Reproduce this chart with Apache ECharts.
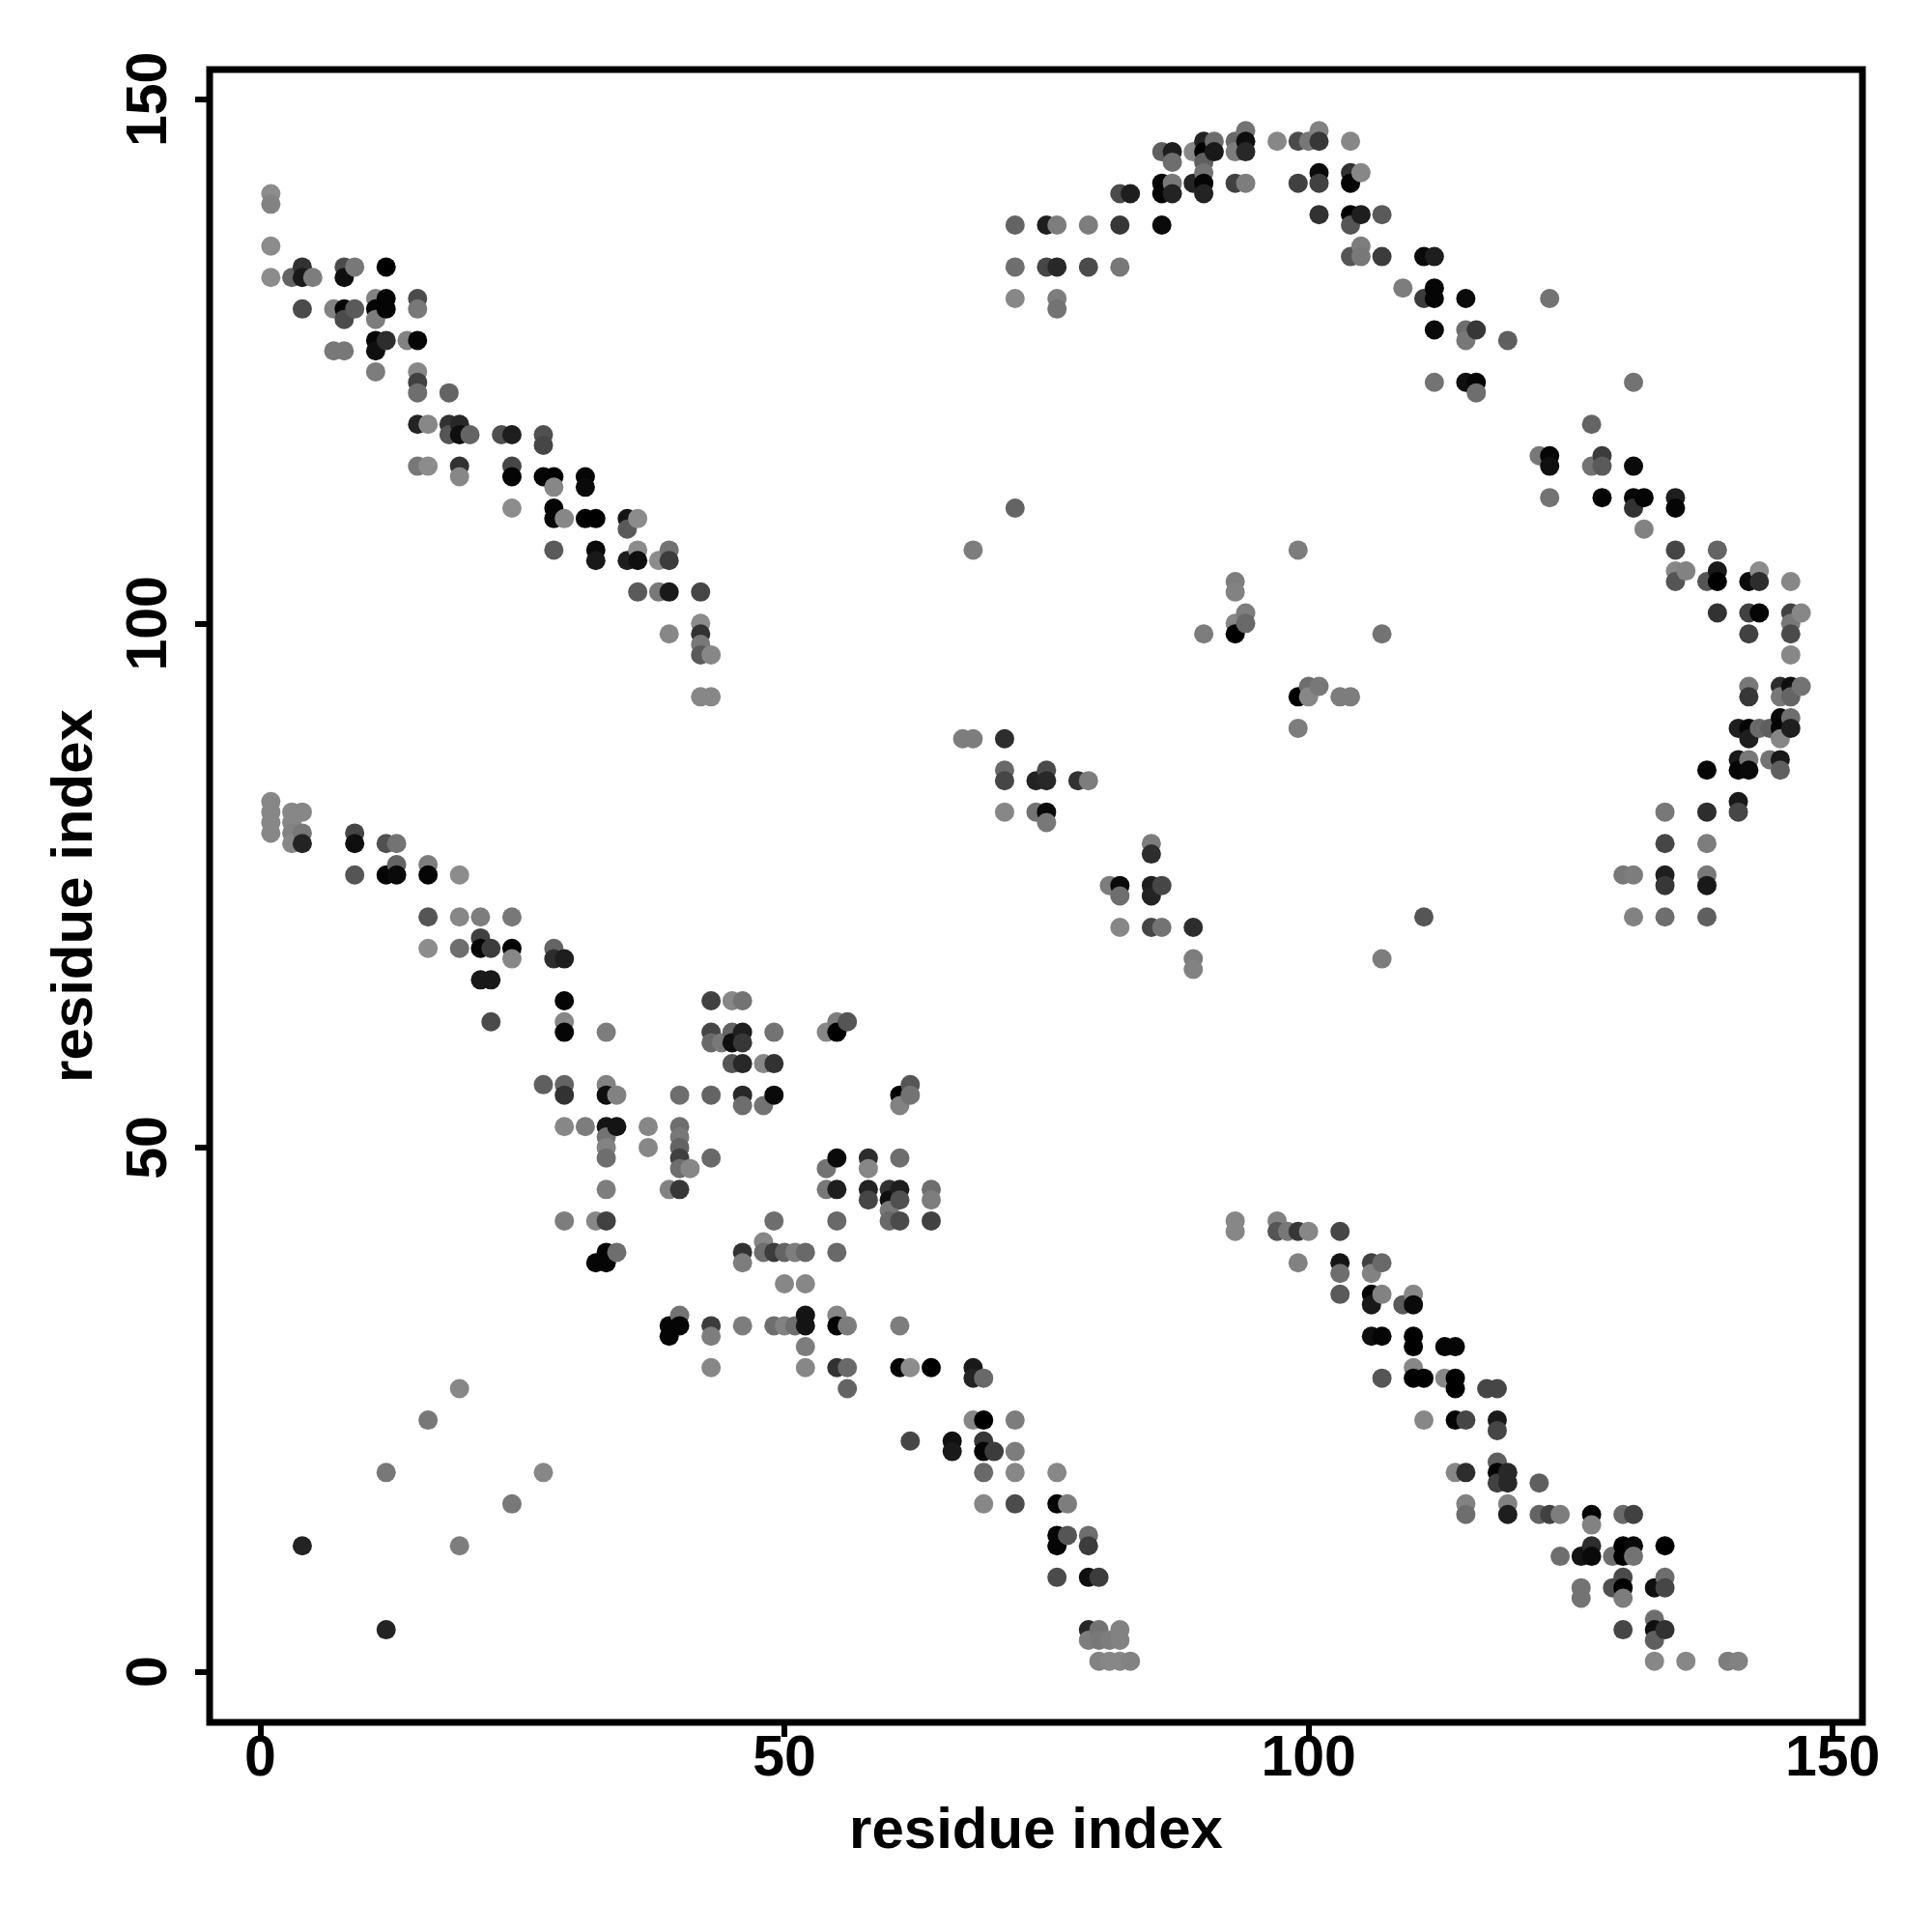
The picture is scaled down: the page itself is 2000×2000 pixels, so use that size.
<!DOCTYPE html>
<html><head><meta charset="utf-8">
<script src="https://cdn.jsdelivr.net/npm/echarts@6/dist/echarts.min.js"></script>
<style>html,body{margin:0;padding:0;background:#fff}#c{width:2000px;height:2000px}</style>
</head><body><div id="c"></div>
<script>
// each contact: [residue i, residue j, grey level]
const tickValues = [0, 50, 100, 150];
const axisTitle = 'residue index';
const helixTopLeft = [
[1,141,140],[1,140,130],[1,136,140],[1,133,140],[3,133,100],[4,134,50],[4,133,25],[5,133,125],[4,130,75],
[7,130,130],[8,134,75],[8,133,15],[8,130,5],[8,129,75],[9,134,120],[9,130,90],[7,126,120],[8,126,120],
[11,131,130],[11,130,5],[11,129,125],[12,134,0],[12,131,5],[12,130,5],[11,127,5],[11,126,15],[12,127,45],
[14,127,130],[15,127,5],[11,124,125],[15,131,75],[15,130,120],[15,124,135],[15,123,65],[15,122,110],[18,122,100],
[15,119,35],[16,119,135],[18,119,50],[18,118,85],[19,119,40],[19,118,15],[20,118,100],[23,118,80],[24,118,30],
[27,118,80],[27,117,70],[15,115,120],[16,115,140],[19,115,50],[19,114,135],[24,115,70],[24,114,5],[27,114,5],
[28,114,0],[28,113,135],[31,114,5],[31,113,10],[24,111,140],[28,111,5],[28,110,5],[29,110,135],[31,110,0],[32,110,0],
[35,110,20],[36,110,140],[35,109,90],[28,107,90],[32,107,10],[32,106,25],[35,106,30],[36,106,15],[36,107,140],
[38,106,140],[39,106,60],[39,107,115],[36,103,90],[38,103,120],[39,103,25],[42,103,70],[39,99,135],[42,100,140],
[42,99,50],[42,98,120],[42,97,90],[43,97,135],[42,93,135],[43,93,135]
];
const helixMidLeft = [
[1,83,135],[1,82,135],[1,81,135],[1,80,135],[3,82,135],[3,81,135],[3,80,130],[3,79,135],[4,82,135],[4,80,120],[4,79,35],
[9,80,70],[9,79,15],[9,76,85],[12,79,80],[12,76,5],[13,79,115],[13,76,10],[13,77,100],[16,77,125],[16,76,5],[16,72,85],[16,69,140],
[19,76,140],[19,72,135],[19,69,110],[21,72,125],[21,70,65],[21,69,5],[22,69,60],[21,66,25],[22,66,25],[22,62,75],
[24,72,120],[24,69,5],[24,68,135],[28,69,100],[28,68,45],[29,68,30],[29,64,5],[29,62,135],[29,61,5],[33,61,125]
];
const centreCluster = [
[43,64,65],[45,64,135],[46,64,115],[43,61,70],[43,60,105],[44,60,120],[45,61,100],[45,60,15],[46,61,30],[46,60,55],
[49,61,115],[54,61,135],[55,62,125],[55,61,0],[56,62,85],[45,58,85],[46,58,40],[48,58,135],[49,58,50],
[27,56,95],[29,56,100],[29,55,50],[33,56,130],[33,55,15],[34,55,130],[40,55,110],[43,55,100],[46,55,40],[46,54,110],
[48,54,115],[49,55,10],[61,55,0],[61,54,130],[62,56,85],[62,55,115],
[29,52,135],[31,52,125],[33,52,20],[34,52,20],[37,52,135],[40,52,110],[33,51,115],[33,50,130],[33,49,110],
[40,51,120],[40,50,100],[40,49,65],[40,48,110],[41,48,135],[37,50,135],[43,49,105],
[55,49,10],[54,48,115],[58,49,45],[58,48,135],[61,49,110],[33,46,125],[39,46,130],[40,46,55],
[54,46,120],[55,46,30],[58,46,35],[58,45,70],[60,46,50],[60,45,15],[60,44,120],[61,46,30],[61,45,80],[60,43,105],[61,43,75],
[64,46,110],[64,45,125],[64,43,65],[29,43,125],[32,43,135],[33,43,65],[49,43,110],[55,43,105],
[33,40,5],[34,40,110],[32,39,5],[33,39,5],[46,40,50],[46,39,125],[48,41,135],[48,40,110],[49,40,60],[50,40,100],
[51,40,125],[52,40,105],[55,40,105],[50,37,135],[52,37,135]
];
const strandLowerMiddle = [
[39,33,5],[39,32,5],[40,34,115],[40,33,5],[43,33,60],[43,32,125],[43,29,135],[46,33,125],[49,33,110],[50,33,130],[51,33,110],
[52,34,20],[52,33,20],[52,31,125],[52,29,135],[55,34,135],[55,33,5],[56,33,125],[61,33,125],[55,29,50],[56,29,105],[56,27,100],
[61,29,5],[62,29,140],[64,29,0],[68,29,25],[68,28,35],[69,28,105],[68,24,135],[69,24,0],[72,24,125],[62,22,70],[66,22,15],[66,21,25],
[69,22,55],[69,21,5],[70,21,60],[72,21,125],[69,19,105],[72,19,135],[76,19,135],[69,16,135],[72,16,75],[76,16,5],[77,16,125],
[76,13,5],[76,12,5],[77,13,85],[79,13,110],[79,12,60],[76,9,75],[79,9,15],[80,9,60],[79,4,40],[80,4,115],[82,4,130],
[79,3,125],[80,3,120],[81,3,125],[82,3,130],[80,1,130],[81,1,135],[82,1,135],[83,1,130]
];
const arcTop = [
[72,138,100],[75,138,30],[76,138,125],[79,138,125],[82,138,55],[86,138,10],[72,134,110],[75,134,70],[76,134,40],[79,134,75],[82,134,120],
[72,131,135],[76,131,125],[76,130,115],[82,141,75],[83,141,30],[86,142,5],[86,141,5],[87,142,120],[87,141,35],[86,145,95],[87,145,30],[87,144,110],
[89,145,135],[89,142,35],[90,146,35],[90,145,0],[90,144,95],[90,143,115],[90,142,5],[90,141,35],[91,146,110],[91,145,25],
[93,146,105],[93,145,125],[93,142,65],[94,147,115],[94,146,15],[94,145,40],[94,142,125],[97,146,135],[99,146,75],[100,146,120],[101,147,130],[101,146,55],
[99,142,65],[101,143,10],[101,142,65],[104,146,135],[104,143,50],[104,142,5],[105,143,135],[101,139,50],[104,139,0],[104,138,85],[105,139,30],[107,139,90],
[104,135,85],[105,136,125],[105,135,120],[107,135,60],[111,135,10],[112,135,30],[109,132,125],[111,131,60],[112,132,5],[112,131,5],[112,128,10]
];
const arcRight = [
[115,131,10],[123,131,115],[115,128,110],[116,128,55],[115,127,120],[119,127,95],[112,123,115],[115,123,15],[116,123,5],[116,122,110],[131,123,115],
[127,119,100],[122,116,120],[123,116,5],[123,115,15],[127,115,115],[128,116,60],[128,115,90],[131,115,10],[123,112,115],[128,112,5],[131,112,5],[131,111,50],
[132,112,5],[135,112,30],[135,111,5],[132,109,130],[135,107,70],[139,107,100],[135,105,135],[136,105,130],[135,104,85],[138,104,85],[139,105,25],[139,104,0],
[142,104,10],[143,105,140],[143,104,45],[146,104,135],[139,101,50],[142,101,65],[143,101,5],[146,101,65],[147,101,135],[146,100,120],[142,99,65],[146,99,75],[146,97,135],
[142,94,120],[142,93,55],[145,94,45],[145,93,120],[146,94,15],[146,93,100],[147,94,115],[141,90,30],[142,90,5],[142,89,30],[143,90,105],[144,90,95],
[145,91,10],[145,90,5],[145,89,135],[146,91,110],[146,90,30],[141,87,25],[141,86,5],[142,87,120],[142,86,10],[144,87,115],[145,87,25],[145,86,95],[138,86,5],
[141,83,25],[141,82,70],[134,82,120],[138,82,45],[134,79,70],[138,79,125],[130,76,120],[131,76,125],[134,76,30],[134,75,55],[138,76,120],[138,75,25],
[131,72,130],[134,72,110],[138,72,95]
];
const middleRight = [
[72,111,100],[68,107,125],[99,107,125],[93,104,125],[93,103,130],[94,101,125],[94,100,105],[93,100,135],[93,99,0],[90,99,125],[107,99,115],
[100,94,110],[101,94,120],[99,93,0],[100,93,135],[103,93,125],[104,93,125],[99,90,125],[67,89,125],[68,89,125],[71,89,45],
[71,86,105],[71,85,70],[74,85,35],[75,86,75],[75,85,40],[78,85,50],[79,85,125],[71,82,135],[74,82,115],[75,82,10],[75,81,120],
[85,79,125],[85,78,45],[81,75,125],[82,75,10],[82,74,110],[85,75,30],[86,75,70],[85,74,35],[82,71,135],[85,71,70],[86,71,115],[89,71,45],
[89,68,125],[89,67,130],[107,68,125],[111,72,85]
];
const strandLowerRight = [
[93,43,135],[93,42,135],[97,43,130],[97,42,85],[98,42,120],[99,42,55],[100,42,135],[103,42,70],[99,39,130],[103,39,20],[103,38,110],[106,39,65],[106,38,130],[107,39,105],
[103,36,90],[106,36,5],[106,35,25],[107,36,130],[109,35,90],[110,36,135],[110,35,10],[106,32,15],[107,32,5],[110,32,0],[110,31,0],[113,31,5],[114,31,5],
[107,28,85],[110,29,135],[110,28,0],[111,28,0],[113,28,135],[114,28,0],[114,27,0],[117,27,70],[118,27,70],[111,24,135],[114,24,5],[115,24,70],[118,24,25],[118,23,70],
[114,19,135],[115,19,45],[118,20,95],[118,19,5],[118,18,65],[119,19,40],[119,18,40],[122,18,95],
[115,16,130],[115,15,110],[119,16,130],[119,15,30],[122,15,100],[123,15,65],[124,15,125],[127,15,5],[127,14,130],[130,15,105],[131,15,65],
[124,11,110],[126,11,20],[127,12,45],[127,11,10],[129,11,110],[130,12,0],[130,11,0],[131,12,10],[131,11,115],[134,12,0],
[126,8,115],[126,7,115],[129,8,80],[130,9,75],[130,8,0],[130,7,125],[133,8,15],[134,9,110],[134,8,70],
[130,4,70],[133,5,110],[133,4,15],[133,3,95],[134,4,50],[133,1,135],[136,1,135],[140,1,125],[141,1,130]
];
const scatteredLowerLeft = [
[4,12,35],[12,4,35],[12,19,120],[19,27,135],[16,24,120],[27,19,135],[24,16,120],[19,12,125]
];
const contacts = [].concat(helixTopLeft, helixMidLeft, centreCluster, strandLowerMiddle, arcTop, arcRight,
  middleRight, strandLowerRight, scatteredLowerLeft)
  .sort((a, b) => a[0] - b[0] || b[1] - a[1]);

const FONT = '"Liberation Sans", Arial, sans-serif';
const axisBase = {
  type: 'value', min: -4.84, max: 152.84, splitLine: {show: false},
  axisLine: {show: false, onZero: false},
  axisTick: {show: true, customValues: tickValues, length: 15, inside: false, lineStyle: {color: '#000', width: 6}},
  nameLocation: 'middle',
  nameTextStyle: {fontFamily: FONT, fontWeight: 'bold', fontSize: 60, color: '#000'}
};
const chart = echarts.init(document.getElementById('c'), null, {renderer: 'canvas'});
chart.setOption({
  animation: false,
  backgroundColor: '#fff',
  grid: {left: 217, top: 72, width: 1711, height: 1711, show: true, borderColor: '#000', borderWidth: 7, backgroundColor: 'transparent'},
  xAxis: Object.assign({}, axisBase, {
    name: axisTitle, nameGap: 83,
    axisLabel: {customValues: tickValues, fontFamily: FONT, fontWeight: 'bold', fontSize: 59, color: '#000', margin: 9}
  }),
  yAxis: Object.assign({}, axisBase, {
    name: axisTitle, nameGap: 109, nameRotate: 90,
    axisLabel: {customValues: tickValues, rotate: 90, fontFamily: FONT, fontWeight: 'bold', fontSize: 59, color: '#000', margin: 32}
  }),
  series: [{
    type: 'scatter', data: contacts, symbol: 'circle', symbolSize: 20, silent: true, clip: false,
    encode: {x: 0, y: 1},
    itemStyle: {opacity: 1, color: p => { const g = p.value[2]; return 'rgb(' + g + ',' + g + ',' + g + ')'; }}
  }]
});
</script></body></html>
